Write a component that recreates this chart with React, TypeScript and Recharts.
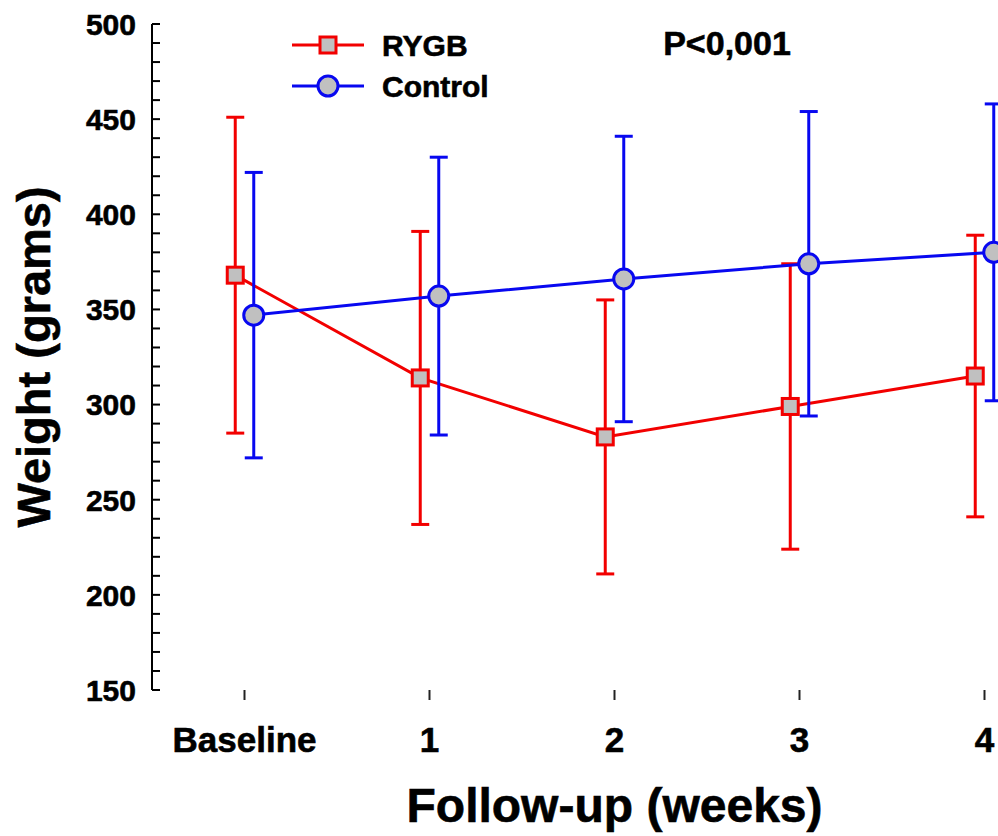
import { LineChart, Line, XAxis, YAxis, ErrorBar, Legend, Label } from "recharts";

const categories = ["Baseline", "1", "2", "3", "4"];
const rygbMean = [368, 314, 283, 299, 315];
const rygbSd = [83, 77, 72, 75, 74];
const controlMean = [347, 357, 366, 374, 380];
const controlSd = [75, 73, 75, 80, 78];
const yTicks = [
  150, 160, 170, 180, 190, 200, 210, 220, 230, 240, 250, 260, 270, 280, 290, 300, 310, 320,
  330, 340, 350, 360, 370, 380, 390, 400, 410, 420, 430, 440, 450, 460, 470, 480, 490, 500,
];
const xTicks = [0, 1, 2, 3, 4];

const RED = "#f20000";
const BLUE = "#0808f0";
const GREY = "#c0c0c0";
const FONT = "Arial, 'Liberation Sans', sans-serif";
// a thin outline makes the bold text look as heavy as in the original
const heavy = { fontWeight: "bold" as const, fontFamily: FONT, fill: "#000", stroke: "#000", strokeWidth: 0.6 };

// small horizontal shift so the two groups don't sit on top of each other
const rygbData = categories.map((c, i) => ({ x: i - 0.05, w: rygbMean[i], sd: rygbSd[i] }));
const controlData = categories.map((c, i) => ({ x: i + 0.05, w: controlMean[i], sd: controlSd[i] }));

function YTick({ x, y, payload }: any) {
  const v = payload.value;
  return (
    <g>
      <line x1={x} x2={x + 8} y1={y} y2={y} stroke="#000" strokeWidth={2} />
      {v % 50 === 0 && (
        <text x={x - 16} y={y} dy="0.36em" textAnchor="end" fontSize={30} {...heavy}>
          {v}
        </text>
      )}
    </g>
  );
}

function XTick({ x, y, payload }: any) {
  return (
    <g>
      <line x1={x} x2={x} y1={y} y2={y + 10} stroke="#222" strokeWidth={2} />
      <text x={x} y={y + 62} textAnchor="middle" fontSize={35} {...heavy}>
        {categories[payload.value]}
      </text>
    </g>
  );
}

function SquareDot(props: any) {
  const { cx, cy, index } = props;
  return <rect key={`sq-${index}`} x={cx - 8} y={cy - 8} width={16} height={16} fill={GREY} stroke={RED} strokeWidth={3} />;
}

function CircleDot(props: any) {
  const { cx, cy, index } = props;
  return <circle key={`ci-${index}`} cx={cx} cy={cy} r={10} fill={GREY} stroke={BLUE} strokeWidth={3} />;
}

function YLabel({ viewBox }: any) {
  const cy = viewBox.y + viewBox.height / 2;
  return (
    <text x={50} y={cy} transform={`rotate(-90 50 ${cy})`} textAnchor="middle" fontSize={47} {...heavy}>
      Weight (grams)
    </text>
  );
}

function XLabel({ viewBox }: any) {
  const cx = viewBox.x + viewBox.width / 2;
  return (
    <text x={cx} y={822} textAnchor="middle" fontSize={48} {...heavy}>
      Follow-up (weeks)
    </text>
  );
}

function LegendBox() {
  return (
    <svg width={998} height={110} style={{ display: "block" }}>
      <line x1={292} x2={364} y1={45} y2={45} stroke={RED} strokeWidth={3} />
      <rect x={320} y={37} width={16} height={16} fill={GREY} stroke={RED} strokeWidth={3} />
      <text x={382} y={56} fontSize={30} {...heavy}>RYGB</text>
      <line x1={292} x2={364} y1={86} y2={86} stroke={BLUE} strokeWidth={3} />
      <circle cx={328} cy={86} r={10} fill={GREY} stroke={BLUE} strokeWidth={3} />
      <text x={382} y={97} fontSize={30} {...heavy}>Control</text>
      <text x={727} y={55} textAnchor="middle" fontSize={34} {...heavy}>
        P&lt;0,001
      </text>
    </svg>
  );
}

export default function App() {
  return (
    <div style={{ position: "absolute", left: 0, top: 0, width: 998, height: 836, overflow: "hidden", background: "#fff" }}>
      <LineChart width={1080} height={836} margin={{ top: 24, right: 3, bottom: 0, left: 0 }}>
        <XAxis
          type="number"
          dataKey="x"
          domain={[-0.5, 4.5]}
          ticks={xTicks}
          interval={0}
          axisLine={false}
          tickLine={false}
          tickSize={0}
          tickMargin={0}
          height={146}
          tick={<XTick />}
        >
          <Label content={<XLabel />} />
        </XAxis>
        <YAxis
          type="number"
          domain={[150, 500]}
          ticks={yTicks}
          interval={0}
          width={152}
          axisLine={{ stroke: "#000", strokeWidth: 2 }}
          tickLine={false}
          tickSize={0}
          tickMargin={0}
          tick={<YTick />}
        >
          <Label content={<YLabel />} />
        </YAxis>
        <Legend
          layout="horizontal"
          verticalAlign="middle"
          align="center"
          content={() => <LegendBox />}
          wrapperStyle={{ position: "absolute", left: 0, top: 0, width: 998, height: 110 }}
        />
        <Line data={rygbData} dataKey="w" stroke={RED} strokeWidth={3} dot={SquareDot} activeDot={false} isAnimationActive={false}>
          <ErrorBar dataKey="sd" direction="y" width={9} stroke={RED} strokeWidth={3} isAnimationActive={false} />
        </Line>
        <Line data={controlData} dataKey="w" stroke={BLUE} strokeWidth={3} dot={CircleDot} activeDot={false} isAnimationActive={false}>
          <ErrorBar dataKey="sd" direction="y" width={9} stroke={BLUE} strokeWidth={3} isAnimationActive={false} />
        </Line>
      </LineChart>
    </div>
  );
}
